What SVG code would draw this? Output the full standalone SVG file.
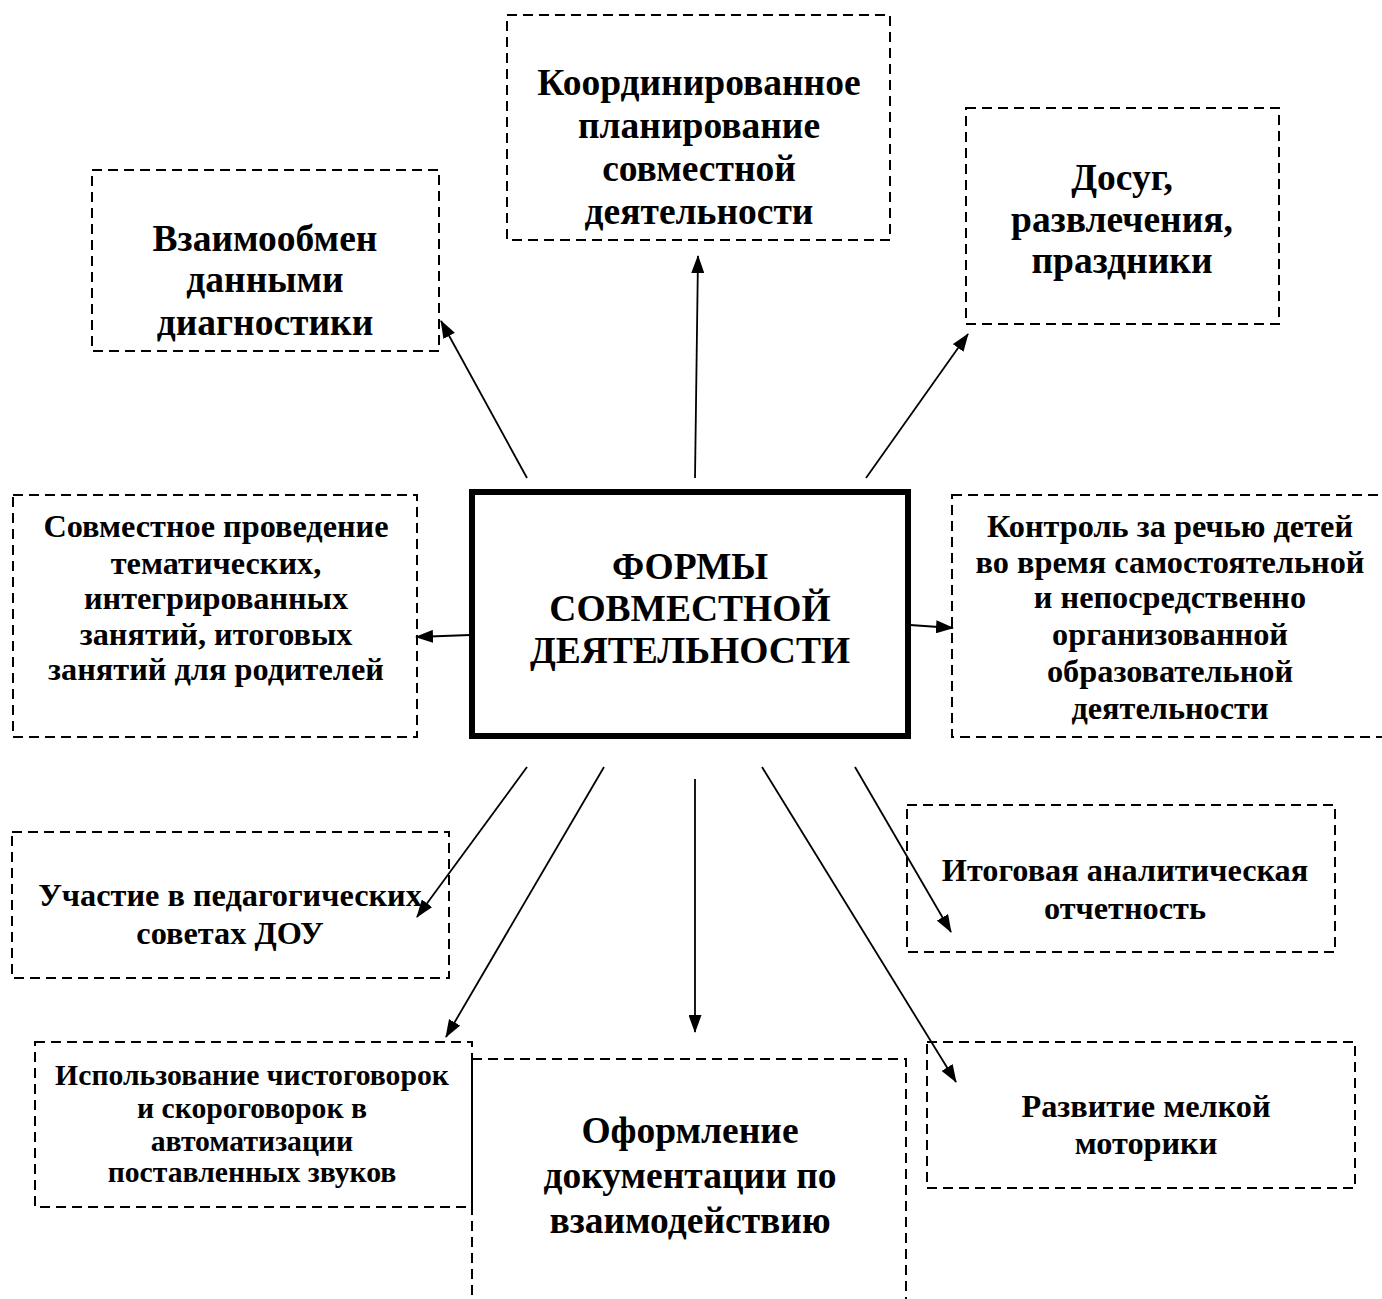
<svg xmlns="http://www.w3.org/2000/svg" width="1382" height="1299" viewBox="0 0 1382 1299">
<style>
.box{fill:none;stroke:#000;stroke-width:2;stroke-dasharray:10 6}
.main{fill:none;stroke:#000;stroke-width:6}
text{font-family:"Liberation Serif","Times New Roman",serif;font-weight:bold;fill:#000;text-anchor:middle}
.tL{font-size:37.5px}
.tM{font-size:32.3px}
.tS{font-size:29.7px}
.conn line{stroke:#000;stroke-width:1.8;marker-end:url(#ah)}
</style>
<defs>
<marker id="ah" viewBox="0 0 18 13" refX="17" refY="6.5" markerWidth="18" markerHeight="13" markerUnits="userSpaceOnUse" orient="auto">
<path d="M0,0 L18,6.5 L0,13 z" fill="#000"/>
</marker>
</defs>
<rect width="1382" height="1299" fill="#fff"/>
<g id="center">
<rect class="main" x="472" y="492" width="436" height="244"/>
<text class="tL" x="690" y="579">ФОРМЫ</text>
<text class="tL" x="690" y="621">СОВМЕСТНОЙ</text>
<text class="tL" x="690" y="663">ДЕЯТЕЛЬНОСТИ</text>
</g>
<g id="n-koord">
<rect class="box" x="507" y="15" width="383" height="225"/>
<text class="tL" x="699" y="95">Координированное</text>
<text class="tL" x="699" y="138">планирование</text>
<text class="tL" x="699" y="181">совместной</text>
<text class="tL" x="699" y="224">деятельности</text>
</g>
<g id="n-vzaim">
<rect class="box" x="92" y="170" width="347" height="181"/>
<text class="tL" x="265" y="251">Взаимообмен</text>
<text class="tL" x="265" y="292">данными</text>
<text class="tL" x="265" y="335">диагностики</text>
</g>
<g id="n-dosug">
<rect class="box" x="966" y="108" width="313" height="216"/>
<text class="tL" x="1122" y="190">Досуг,</text>
<text class="tL" x="1122" y="232">развлечения,</text>
<text class="tL" x="1122" y="273">праздники</text>
</g>
<g id="n-sovm">
<rect class="box" x="13" y="495" width="404" height="242"/>
<text class="tM" x="216" y="537">Совместное проведение</text>
<text class="tM" x="216" y="574">тематических,</text>
<text class="tM" x="216" y="609">интегрированных</text>
<text class="tM" x="216" y="645">занятий, итоговых</text>
<text class="tM" x="216" y="680">занятий для родителей</text>
</g>
<g id="n-kontrol">
<rect class="box" x="952" y="495" width="432" height="242"/>
<text class="tM" x="1170" y="537">Контроль за речью детей</text>
<text class="tM" x="1170" y="573">во время самостоятельной</text>
<text class="tM" x="1170" y="608">и непосредственно</text>
<text class="tM" x="1170" y="645">организованной</text>
<text class="tM" x="1170" y="682">образовательной</text>
<text class="tM" x="1170" y="719">деятельности</text>
</g>
<g id="n-uchastie">
<rect class="box" x="12" y="832" width="437" height="146"/>
<text class="tM" x="230" y="906">Участие в педагогических</text>
<text class="tM" x="230" y="944">советах ДОУ</text>
</g>
<g id="n-ispolz">
<rect class="box" x="35" y="1042" width="437" height="165"/>
<text class="tS" x="252" y="1085">Использование чистоговорок</text>
<text class="tS" x="252" y="1118">и скороговорок в</text>
<text class="tS" x="252" y="1151">автоматизации</text>
<text class="tS" x="252" y="1182">поставленных звуков</text>
</g>
<g id="n-oform">
<rect class="box" x="472" y="1059" width="434" height="260"/>
<text class="tL" x="690" y="1143">Оформление</text>
<text class="tL" x="690" y="1188">документации по</text>
<text class="tL" x="690" y="1233">взаимодействию</text>
</g>
<g id="n-itog">
<rect class="box" x="907" y="805" width="428" height="147"/>
<text class="tM" x="1125" y="881">Итоговая аналитическая</text>
<text class="tM" x="1125" y="919">отчетность</text>
</g>
<g id="n-razv">
<rect class="box" x="927" y="1042" width="428" height="146"/>
<text class="tM" x="1146" y="1117">Развитие мелкой</text>
<text class="tM" x="1146" y="1154">моторики</text>
</g>
<g id="connectors" class="conn">
<line x1="695" y1="478" x2="698" y2="256"/>
<line x1="527" y1="478" x2="441" y2="321"/>
<line x1="866" y1="478" x2="968" y2="334"/>
<line x1="470" y1="635" x2="416" y2="637"/>
<line x1="910" y1="625" x2="953" y2="628"/>
<line x1="527" y1="767" x2="417" y2="917"/>
<line x1="604" y1="767" x2="446" y2="1037"/>
<line x1="695" y1="779" x2="695" y2="1032"/>
<line x1="762" y1="767" x2="956" y2="1082"/>
<line x1="855" y1="767" x2="951" y2="932"/>
</g>
</svg>
